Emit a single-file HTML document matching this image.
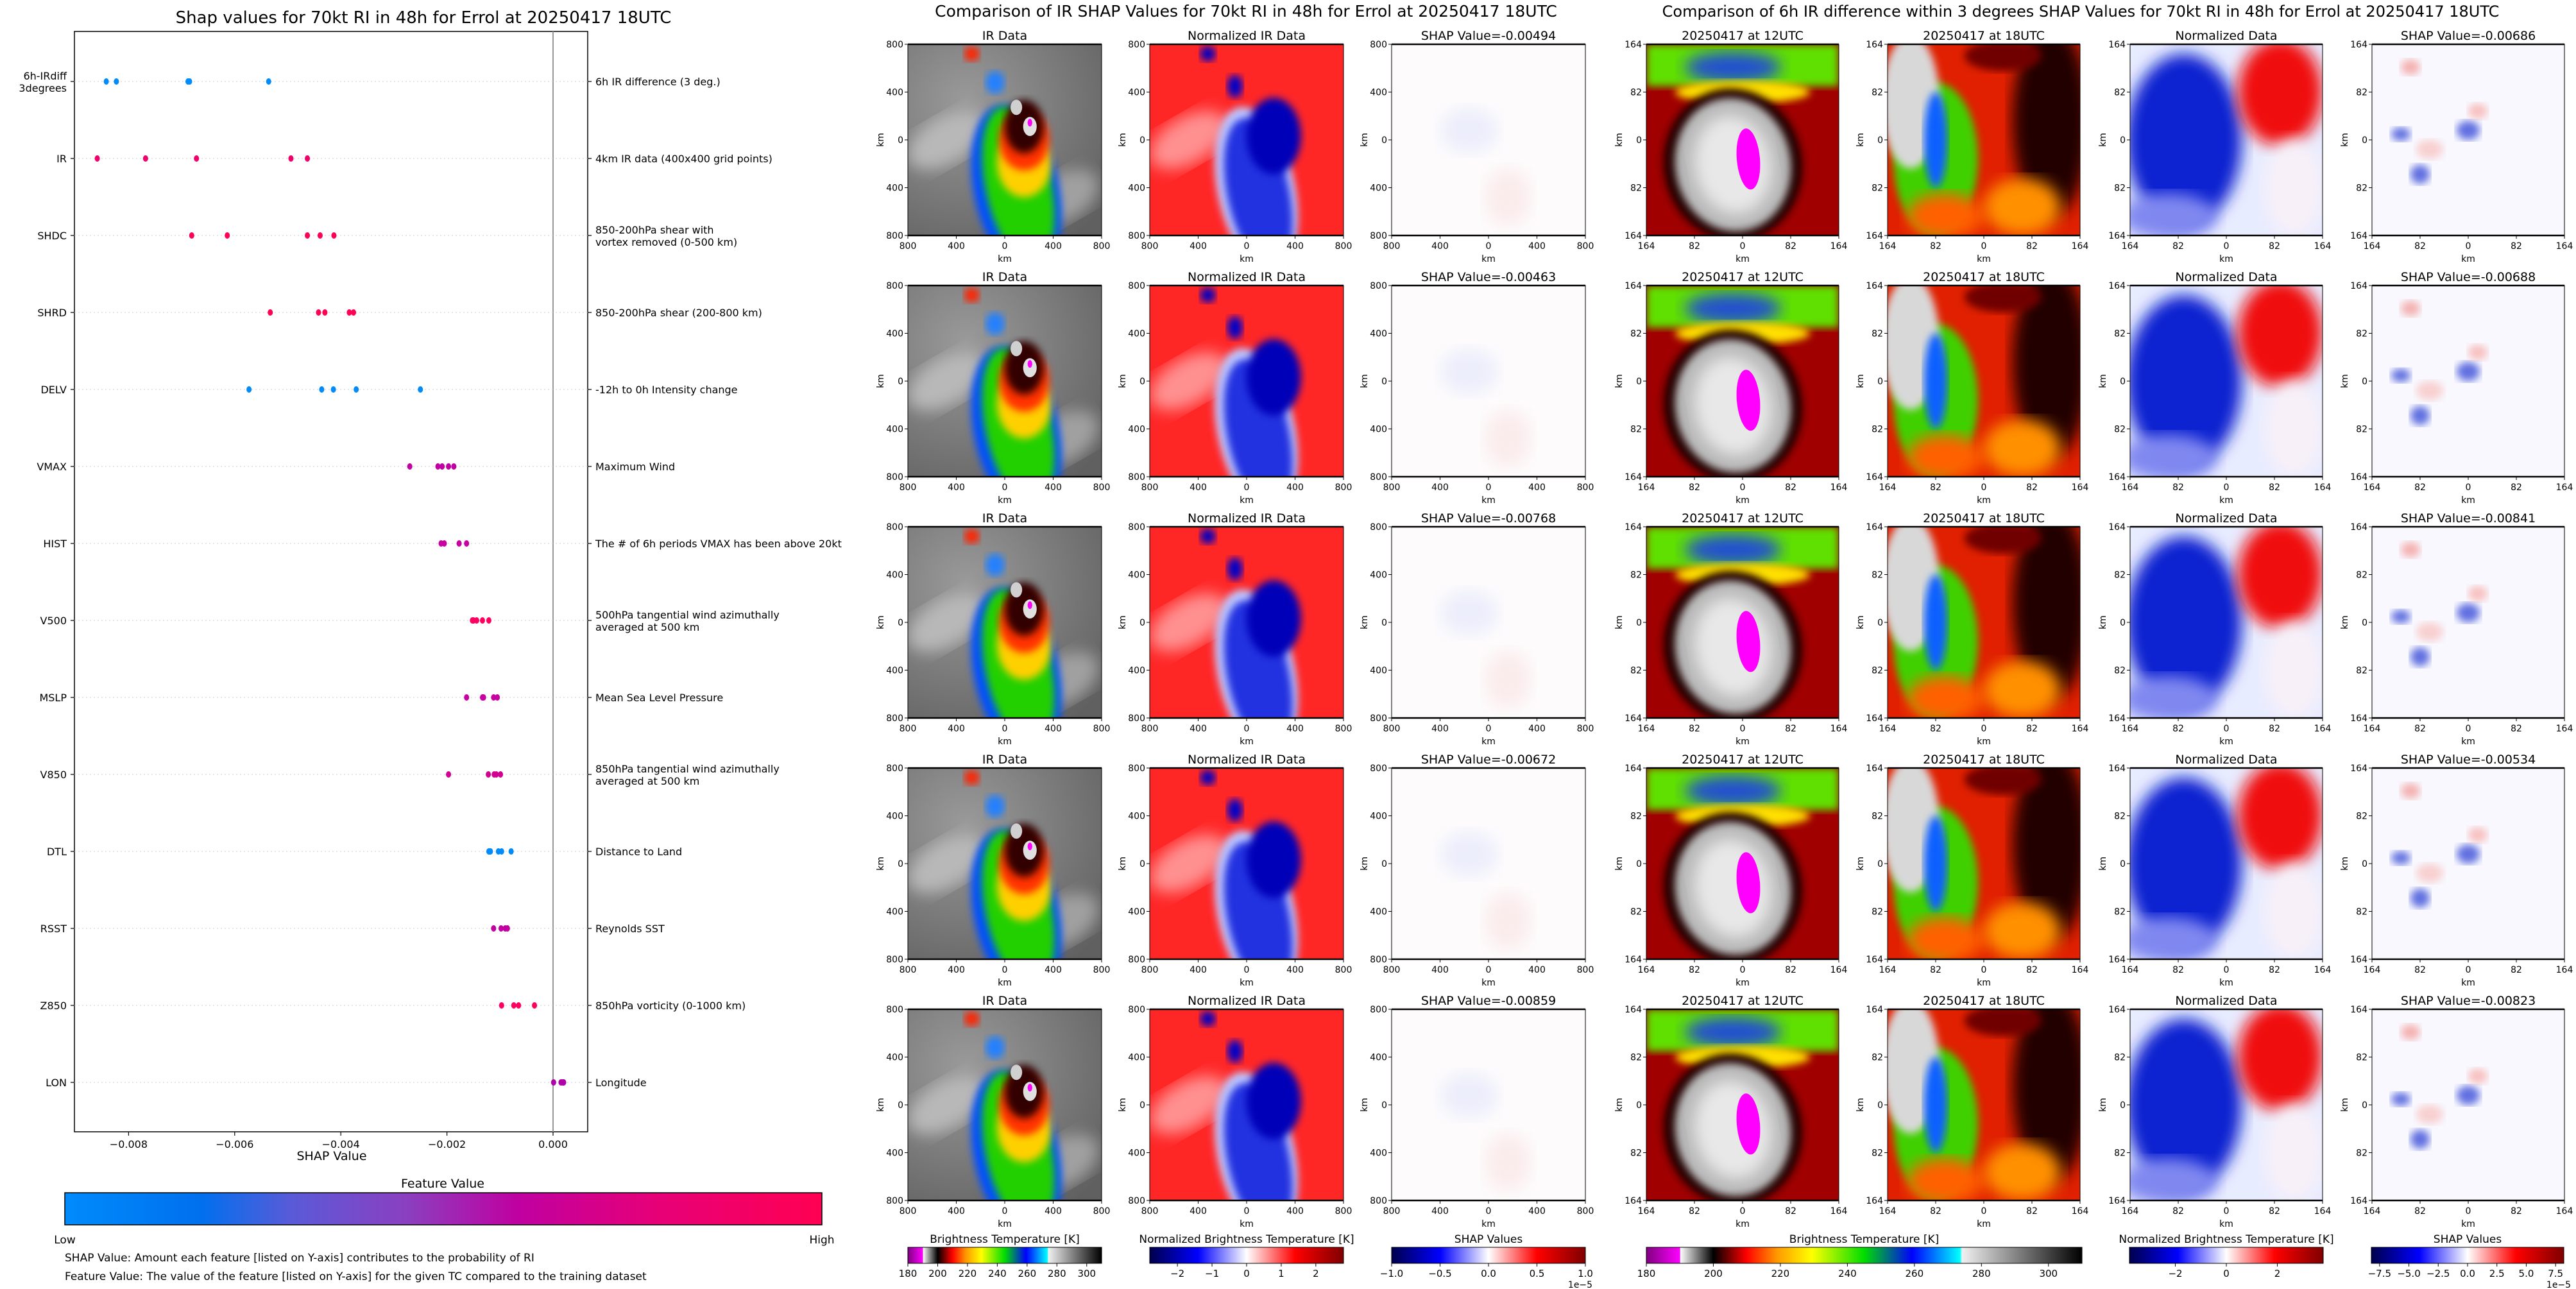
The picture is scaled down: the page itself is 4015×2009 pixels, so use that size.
<!DOCTYPE html>
<html><head><meta charset="utf-8">
<style>
html,body{margin:0;padding:0;background:#fff;}
svg{display:block;font-family:"DejaVu Sans","Liberation Sans",sans-serif;}
</style></head>
<body>
<svg id="root" width="4015" height="2009" viewBox="0 0 4015 2009" xmlns="http://www.w3.org/2000/svg">
<defs>
  <linearGradient id="featGrad" x1="0" x2="1" y1="0" y2="0">
    <stop offset="0" stop-color="#008bfb"/><stop offset="0.18" stop-color="#0070ee"/>
    <stop offset="0.3" stop-color="#5a5ad8"/><stop offset="0.45" stop-color="#8a40c0"/>
    <stop offset="0.6" stop-color="#c000a0"/><stop offset="0.78" stop-color="#e60078"/>
    <stop offset="1" stop-color="#ff0052"/>
  </linearGradient>
  <linearGradient id="btGrad" x1="0" x2="1">
    <stop offset="0" stop-color="#800080"/><stop offset="0.077" stop-color="#ff00ff"/>
    <stop offset="0.078" stop-color="#ffffff"/><stop offset="0.154" stop-color="#000000"/>
    <stop offset="0.23" stop-color="#ff0000"/><stop offset="0.3" stop-color="#ff9900"/>
    <stop offset="0.38" stop-color="#ffff00"/><stop offset="0.5" stop-color="#00dd00"/>
    <stop offset="0.61" stop-color="#0000ff"/><stop offset="0.72" stop-color="#00ffff"/>
    <stop offset="0.725" stop-color="#f0f0f0"/><stop offset="1" stop-color="#000000"/>
  </linearGradient>
  <linearGradient id="seisGrad" x1="0" x2="1">
    <stop offset="0" stop-color="#00004c"/><stop offset="0.25" stop-color="#0000ff"/>
    <stop offset="0.5" stop-color="#ffffff"/><stop offset="0.75" stop-color="#ff0000"/>
    <stop offset="1" stop-color="#7f0000"/>
  </linearGradient>
  <filter id="blur6"><feGaussianBlur stdDeviation="6"/></filter>
  <filter id="blur12"><feGaussianBlur stdDeviation="12"/></filter>
  <radialGradient id="grayBg" cx="0.3" cy="0.3" r="0.9">
    <stop offset="0" stop-color="#9a9a9a"/><stop offset="1" stop-color="#606060"/>
  </radialGradient>
</defs>
<g id="left"></g>
<g id="right"></g>
</svg>
<script>
// ---------- SHAP summary data ----------
const features = ["6h-IRdiff\n3degrees","IR","SHDC","SHRD","DELV","VMAX","HIST","V500","MSLP","V850","DTL","RSST","Z850","LON"];
const descriptions = ["6h IR difference (3 deg.)","4km IR data (400x400 grid points)","850-200hPa shear with\nvortex removed (0-500 km)","850-200hPa shear (200-800 km)","-12h to 0h Intensity change","Maximum Wind","The # of 6h periods VMAX has been above 20kt","500hPa tangential wind azimuthally\naveraged at 500 km","Mean Sea Level Pressure","850hPa tangential wind azimuthally\naveraged at 500 km","Distance to Land","Reynolds SST","850hPa vorticity (0-1000 km)","Longitude"];
const shap_6hIRdiff = [-0.00842,-0.00823,-0.00688,-0.00685,-0.00536];
const shap_IR = [-0.00859,-0.00768,-0.00672,-0.00494,-0.00463];
const shap_SHDC = [-0.00681,-0.00614,-0.00463,-0.00439,-0.00413];
const shap_SHRD = [-0.00533,-0.00442,-0.00430,-0.00384,-0.00376];
const shap_DELV = [-0.00573,-0.00436,-0.00414,-0.00371,-0.00250];
const shap_VMAX = [-0.00270,-0.00217,-0.00209,-0.00197,-0.00187];
const shap_HIST = [-0.00211,-0.00205,-0.00177,-0.00163];
const shap_V500 = [-0.00152,-0.00150,-0.00144,-0.00133,-0.00121];
const shap_MSLP = [-0.00163,-0.00133,-0.00131,-0.00112,-0.00105];
const shap_V850 = [-0.00197,-0.00122,-0.00111,-0.00107,-0.00099];
const shap_DTL = [-0.00121,-0.00118,-0.00103,-0.00097,-0.00079];
const shap_RSST = [-0.00112,-0.00098,-0.00090,-0.00086];
const shap_Z850 = [-0.00097,-0.00074,-0.00065,-0.00035];
const shap_LON = [0.00001,0.00015,0.00018,0.00020];
const featureColors = ["#008bfb","#f0006b","#ff0052","#ff0052","#008bfb","#c000a0","#c800a0","#ff0060","#c800a0","#d00090","#008bfb","#c000a0","#ff0060","#b000a8"];
const xTicks = [-0.008,-0.006,-0.004,-0.002,0.000];
const xTickLabels = ["\u22120.008","\u22120.006","\u22120.004","\u22120.002","0.000"];
const irShapValues = ["-0.00494","-0.00463","-0.00768","-0.00672","-0.00859"];
const diffShapValues = ["-0.00686","-0.00688","-0.00841","-0.00534","-0.00823"];
const btTicks = [180,200,220,240,260,280,300];
const normTicks1 = [-2,-1,0,1,2];
const shapTicks1 = ["\u22121.0","\u22120.5","0.0","0.5","1.0"];
const normTicks2 = [-2,0,2];
const shapTicks2 = ["\u22127.5","\u22125.0","\u22122.5","0.0","2.5","5.0","7.5"];

const allShap = [shap_6hIRdiff,shap_IR,shap_SHDC,shap_SHRD,shap_DELV,shap_VMAX,shap_HIST,shap_V500,shap_MSLP,shap_V850,shap_DTL,shap_RSST,shap_Z850,shap_LON];

const NS="http://www.w3.org/2000/svg";
function mk(tag,attrs,parent,text){const e=document.createElementNS(NS,tag);for(const k in attrs)e.setAttribute(k,attrs[k]);if(text!==undefined)e.textContent=text;parent.appendChild(e);return e;}

// ---------- left chart ----------
const L=document.getElementById('left');
const AX={l:116,r:916,t:49,b:1764};
const xS=v=>862+v*82700;
const yS=i=>127+i*120.0;
let t=mk('text',{x:660,y:36,'font-size':26,'text-anchor':'middle',fill:'#000'},L,"Shap values for 70kt RI in 48h for Errol at 20250417 18UTC");


let box=mk('rect',{x:AX.l,y:AX.t,width:AX.r-AX.l,height:AX.b-AX.t,fill:'none',stroke:'#000','stroke-width':1.5},L);


let zl=mk('line',{x1:xS(0),x2:xS(0),y1:AX.t,y2:AX.b,stroke:'#999','stroke-width':2},L);


features.forEach((f,i)=>{
  const y=yS(i);
  const g=mk('line',{x1:AX.l,x2:AX.r,y1:y,y2:y,stroke:'#ccc','stroke-width':1,'stroke-dasharray':'2,4'},L);
  
  
  mk('line',{x1:AX.l-6,x2:AX.l,y1:y,y2:y,stroke:'#000','stroke-width':1.2},L);
  mk('line',{x1:AX.r,x2:AX.r+6,y1:y,y2:y,stroke:'#000','stroke-width':1.2},L);
  const lines=f.split('\n');
  const lab=mk('text',{x:AX.l-12,y:y+6-(lines.length-1)*9,'font-size':16,'text-anchor':'end'},L);
  
  
  lines.forEach((s,k)=>mk('tspan',{x:AX.l-12,dy:k?19:0},lab,s));
  const dl=descriptions[i].split('\n');
  const d=mk('text',{x:AX.r+12,y:y+6-(dl.length-1)*9,'font-size':16},L);
  
  
  dl.forEach((s,k)=>mk('tspan',{x:AX.r+12,dy:k?19:0},d,s));
  allShap[i].forEach(v=>{
    const c=mk('ellipse',{cx:xS(v),cy:y,rx:4,ry:5,fill:featureColors[i]},L);
    
    
  });
});
xTicks.forEach((v,k)=>{
  mk('line',{x1:xS(v),x2:xS(v),y1:AX.b,y2:AX.b+6,stroke:'#000','stroke-width':1.2},L);
  const tl=mk('text',{x:xS(v),y:AX.b+25,'font-size':16,'text-anchor':'middle'},L,xTickLabels[k]);
  
  
});
t=mk('text',{x:517,y:1808,'font-size':19,'text-anchor':'middle'},L,"SHAP Value");


t=mk('text',{x:690,y:1851,'font-size':19,'text-anchor':'middle'},L,"Feature Value");


let cb=mk('rect',{x:101,y:1859,width:1180,height:50,fill:'url(#featGrad)',stroke:'#000','stroke-width':1.5},L);


t=mk('text',{x:101,y:1938,'font-size':17,'text-anchor':'middle'},L,"Low");


t=mk('text',{x:1281,y:1938,'font-size':17,'text-anchor':'middle'},L,"High");


t=mk('text',{x:101,y:1966,'font-size':17},L,"SHAP Value: Amount each feature [listed on Y-axis] contributes to the probability of RI");


t=mk('text',{x:101,y:1995,'font-size':17},L,"Feature Value: The value of the feature [listed on Y-axis] for the given TC compared to the training dataset");



// ---------- right panels ----------
const R=document.getElementById('right');
const rowTops=[69,445,821,1197,1573];
const H=298;
const g1=[1415,1792,2169], g1w=302;
const g2=[2566,2942,3320,3697], g2w=300;
let clipId=0;
function panelArt(kind,x,y,w,h,p){
  const id='cp'+(clipId++);
  const cp=mk('clipPath',{id:id},p); mk('rect',{x:x,y:y,width:w,height:h},cp);
  const g=mk('g',{'clip-path':'url(#'+id+')'},p);
  const E=(cx,cy,rx,ry,fill,f,rot)=>mk('ellipse',{cx:x+cx*w,cy:y+cy*h,rx:rx*w,ry:ry*h,fill:fill,filter:f?'url(#'+f+')':'',transform:rot?`rotate(${rot} ${x+cx*w} ${y+cy*h})`:''},g);
  if(kind==='ir'){
    mk('rect',{x:x,y:y,width:w,height:h,fill:'url(#grayBg)'},g);
    E(0.2,0.5,0.22,0.12,'#b8b8b8','blur12',-30);
    E(0.8,0.8,0.2,0.12,'#a0a0a0','blur12',-30);
    E(0.56,0.76,0.22,0.45,'#0050ff','blur6',-12);
    E(0.57,0.74,0.17,0.42,'#20d000','blur6',-12);
    E(0.6,0.62,0.14,0.18,'#ffd000','blur6');
    E(0.6,0.5,0.13,0.16,'#ff3000','blur6');
    E(0.6,0.43,0.1,0.14,'#300000','blur6');
    E(0.56,0.33,0.03,0.04,'#d0d0d0');E(0.63,0.43,0.035,0.05,'#e0e0e0');
    E(0.63,0.41,0.012,0.02,'#ff00ff');
    E(0.33,0.05,0.04,0.04,'#ff2000','blur6');
    E(0.45,0.2,0.05,0.06,'#2080ff','blur6');
  } else if(kind==='norm'){
    mk('rect',{x:x,y:y,width:w,height:h,fill:'#ff2626'},g);
    E(0.2,0.5,0.22,0.12,'#ff9090','blur12',-30);
    E(0.55,0.76,0.2,0.44,'#c0c8ff','blur6',-12);
    E(0.56,0.78,0.16,0.4,'#2030e0','blur6',-12);
    E(0.64,0.48,0.14,0.2,'#0000b8','blur6');
    E(0.44,0.22,0.04,0.06,'#0000c8','blur6');
    E(0.3,0.05,0.04,0.04,'#0000c0','blur6');
  } else if(kind==='shap'){
    mk('rect',{x:x,y:y,width:w,height:h,fill:'#fdfbfc'},g);
    E(0.4,0.45,0.15,0.12,'#eceefb','blur12');
    E(0.6,0.8,0.12,0.15,'#fbecec','blur12');
  } else if(kind==='t12'){
    mk('rect',{x:x,y:y,width:w,height:h,fill:'#a00000'},g);
    mk('rect',{x:x,y:y,width:w,height:h*0.22,fill:'#60e000',filter:'url(#blur6)'},g);
    E(0.45,0.12,0.25,0.08,'#2050d0','blur12');
    E(0.5,0.25,0.35,0.06,'#ffe000','blur6');
    E(0.45,0.63,0.36,0.4,'#200000','blur6',-10);
    E(0.45,0.63,0.3,0.35,'#b8b8b8','blur6',-10);
    E(0.45,0.63,0.2,0.26,'#e8e8e8','blur12',-10);
    E(0.53,0.6,0.06,0.16,'#ff00ff',null,-5);
  } else if(kind==='t18'){
    mk('rect',{x:x,y:y,width:w,height:h,fill:'#e02000'},g);
    E(0.85,0.4,0.2,0.5,'#200000','blur12');
    E(0.25,0.6,0.22,0.4,'#40d000','blur6');
    E(0.12,0.3,0.15,0.35,'#d8d8d8','blur6');
    E(0.25,0.5,0.06,0.25,'#1060ff','blur6');
    E(0.6,0.06,0.2,0.08,'#700000','blur6');
    E(0.3,0.9,0.2,0.12,'#ff6000','blur12');
    E(0.7,0.85,0.2,0.15,'#ff9000','blur12');
  } else if(kind==='n2'){
    mk('rect',{x:x,y:y,width:w,height:h,fill:'#e8ecff'},g);
    E(0.28,0.5,0.3,0.45,'#1020d0','blur12');
    E(0.78,0.25,0.22,0.28,'#f01010','blur12');
    E(0.85,0.75,0.15,0.25,'#f8f0f8','blur12');
    E(0.2,0.9,0.25,0.12,'#8088f0','blur12');
  } else {
    mk('rect',{x:x,y:y,width:w,height:h,fill:'#f8f8fe'},g);
    E(0.15,0.47,0.05,0.035,'#6070e0','blur6');
    E(0.5,0.45,0.06,0.05,'#6070e0','blur6');
    E(0.25,0.68,0.05,0.05,'#6070e0','blur6');
    E(0.2,0.12,0.05,0.04,'#f4b0b0','blur6');
    E(0.55,0.35,0.05,0.04,'#f8c0c0','blur6');
    E(0.3,0.55,0.07,0.05,'#f8d0d0','blur6');
  }
  mk('rect',{x:x,y:y,width:w,height:h,fill:'none',stroke:'#000','stroke-width':1},p);
  mk('line',{x1:x,x2:x+w,y1:y,y2:y,stroke:'#000','stroke-width':2.5},p);
  mk('line',{x1:x,x2:x+w,y1:y+h,y2:y+h,stroke:'#000','stroke-width':2.5},p);
}
function axesLabels(x,y,w,h,labels,p,title){
  const tt=mk('text',{x:x+w/2,y:y-7,'font-size':19,'text-anchor':'middle'},p,title);
  
  
  labels.forEach((s,k)=>{
    const px=x+k*w/(labels.length-1), py=y+k*h/(labels.length-1);
    mk('line',{x1:px,x2:px,y1:y+h,y2:y+h+5,stroke:'#000'},p);
    mk('text',{x:px,y:y+h+21,'font-size':14,'text-anchor':'middle'},p,s);
    mk('line',{x1:x-5,x2:x,y1:py,y2:py,stroke:'#000'},p);
    mk('text',{x:x-7,y:py+5,'font-size':14,'text-anchor':'end'},p,s);
  });
  mk('text',{x:x+w/2,y:y+h+41,'font-size':14,'text-anchor':'middle'},p,"km");
  mk('text',{x:x-38,y:y+h/2,'font-size':14,'text-anchor':'middle',transform:`rotate(-90 ${x-38} ${y+h/2})`},p,"km");
}
t=mk('text',{x:1942,y:26,'font-size':25,'text-anchor':'middle'},R,"Comparison of IR SHAP Values for 70kt RI in 48h for Errol at 20250417 18UTC");


t=mk('text',{x:3243,y:26,'font-size':24,'text-anchor':'middle'},R,"Comparison of 6h IR difference within 3 degrees SHAP Values for 70kt RI in 48h for Errol at 20250417 18UTC");


const lab1=["800","400","0","400","800"], lab2=["164","82","0","82","164"];
rowTops.forEach((y,r)=>{
  const kinds1=['ir','norm','shap'], titles1=["IR Data","Normalized IR Data","SHAP Value="+irShapValues[r]];
  g1.forEach((x,c)=>{
    const pg=mk('g',{},R);
    
    
    panelArt(kinds1[c],x,y,g1w,H,pg);axesLabels(x,y,g1w,H,lab1,pg,titles1[c]);
  });
  const kinds2=['t12','t18','n2','s2'], titles2=["20250417 at 12UTC","20250417 at 18UTC","Normalized Data","SHAP Value="+diffShapValues[r]];
  g2.forEach((x,c)=>{
    const pg=mk('g',{},R);
    
    
    panelArt(kinds2[c],x,y,g2w,H,pg);axesLabels(x,y,g2w,H,lab2,pg,titles2[c]);
  });
});
function cbar(x,w,grad,title,ticks,lo,hi,name,exp){
  const g=mk('g',{},R);
  
  
  mk('text',{x:x+w/2,y:1937,'font-size':17,'text-anchor':'middle'},g,title);
  mk('rect',{x:x,y:1944,width:w,height:25,fill:'url(#'+grad+')',stroke:'#000','stroke-width':1},g);
  ticks.forEach(s=>{
    const v=parseFloat(String(s).replace('\u2212','-'));
    const px=x+(v-lo)/(hi-lo)*w;
    mk('line',{x1:px,x2:px,y1:1969,y2:1974,stroke:'#000'},g);
    mk('text',{x:px,y:1990,'font-size':15,'text-anchor':'middle'},g,String(s).replace('-','\u2212'));
  });
  if(exp) mk('text',{x:x+w-8,y:2007,'font-size':14,'text-anchor':'middle'},g,"1e\u22125");
}
cbar(1415,302,'btGrad','Brightness Temperature [K]',btTicks,180,310,'bt-colorbar-1');
cbar(1792,302,'seisGrad','Normalized Brightness Temperature [K]',normTicks1,-2.8,2.8,'norm-colorbar-1');
cbar(2169,302,'seisGrad','SHAP Values',shapTicks1,-1,1,'shap-colorbar-1',true);
cbar(2566,679,'btGrad','Brightness Temperature [K]',btTicks,180,310,'bt-colorbar-2');
cbar(3319,302,'seisGrad','Normalized Brightness Temperature [K]',normTicks2,-3.8,3.8,'norm-colorbar-2');
cbar(3696,300,'seisGrad','SHAP Values',shapTicks2,-8.2,8.2,'shap-colorbar-2',true);
</script>
</body></html>
